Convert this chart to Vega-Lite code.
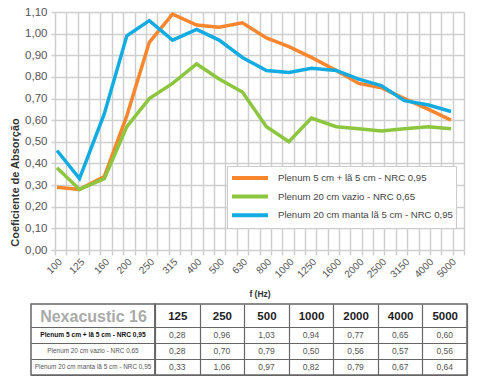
{
  "$schema": "https://vega.github.io/schema/vega-lite/v6.json",
  "background": "white",
  "padding": {"left": 9, "top": 6, "right": 0, "bottom": 0},
  "autosize": {"type": "pad"},
  "config": {
    "font": "Liberation Sans",
    "view": {"stroke": null},
    "locale": {"number": {"decimal": ",", "thousands": ".", "grouping": [3], "currency": ["R$", ""]}}
  },
  "datasets": {
    "curves": [
      {"f": 100, "serie": "Plenum 5 cm + lã 5 cm - NRC 0,95", "v": 0.29},
      {"f": 125, "serie": "Plenum 5 cm + lã 5 cm - NRC 0,95", "v": 0.28},
      {"f": 160, "serie": "Plenum 5 cm + lã 5 cm - NRC 0,95", "v": 0.34},
      {"f": 200, "serie": "Plenum 5 cm + lã 5 cm - NRC 0,95", "v": 0.62},
      {"f": 250, "serie": "Plenum 5 cm + lã 5 cm - NRC 0,95", "v": 0.96},
      {"f": 315, "serie": "Plenum 5 cm + lã 5 cm - NRC 0,95", "v": 1.09},
      {"f": 400, "serie": "Plenum 5 cm + lã 5 cm - NRC 0,95", "v": 1.04},
      {"f": 500, "serie": "Plenum 5 cm + lã 5 cm - NRC 0,95", "v": 1.03},
      {"f": 630, "serie": "Plenum 5 cm + lã 5 cm - NRC 0,95", "v": 1.05},
      {"f": 800, "serie": "Plenum 5 cm + lã 5 cm - NRC 0,95", "v": 0.98},
      {"f": 1000, "serie": "Plenum 5 cm + lã 5 cm - NRC 0,95", "v": 0.94},
      {"f": 1250, "serie": "Plenum 5 cm + lã 5 cm - NRC 0,95", "v": 0.89},
      {"f": 1600, "serie": "Plenum 5 cm + lã 5 cm - NRC 0,95", "v": 0.83},
      {"f": 2000, "serie": "Plenum 5 cm + lã 5 cm - NRC 0,95", "v": 0.77},
      {"f": 2500, "serie": "Plenum 5 cm + lã 5 cm - NRC 0,95", "v": 0.75},
      {"f": 3150, "serie": "Plenum 5 cm + lã 5 cm - NRC 0,95", "v": 0.70},
      {"f": 4000, "serie": "Plenum 5 cm + lã 5 cm - NRC 0,95", "v": 0.65},
      {"f": 5000, "serie": "Plenum 5 cm + lã 5 cm - NRC 0,95", "v": 0.60},
      {"f": 100, "serie": "Plenum 20 cm vazio - NRC 0,65", "v": 0.38},
      {"f": 125, "serie": "Plenum 20 cm vazio - NRC 0,65", "v": 0.28},
      {"f": 160, "serie": "Plenum 20 cm vazio - NRC 0,65", "v": 0.33},
      {"f": 200, "serie": "Plenum 20 cm vazio - NRC 0,65", "v": 0.57},
      {"f": 250, "serie": "Plenum 20 cm vazio - NRC 0,65", "v": 0.70},
      {"f": 315, "serie": "Plenum 20 cm vazio - NRC 0,65", "v": 0.77},
      {"f": 400, "serie": "Plenum 20 cm vazio - NRC 0,65", "v": 0.86},
      {"f": 500, "serie": "Plenum 20 cm vazio - NRC 0,65", "v": 0.79},
      {"f": 630, "serie": "Plenum 20 cm vazio - NRC 0,65", "v": 0.73},
      {"f": 800, "serie": "Plenum 20 cm vazio - NRC 0,65", "v": 0.57},
      {"f": 1000, "serie": "Plenum 20 cm vazio - NRC 0,65", "v": 0.50},
      {"f": 1250, "serie": "Plenum 20 cm vazio - NRC 0,65", "v": 0.61},
      {"f": 1600, "serie": "Plenum 20 cm vazio - NRC 0,65", "v": 0.57},
      {"f": 2000, "serie": "Plenum 20 cm vazio - NRC 0,65", "v": 0.56},
      {"f": 2500, "serie": "Plenum 20 cm vazio - NRC 0,65", "v": 0.55},
      {"f": 3150, "serie": "Plenum 20 cm vazio - NRC 0,65", "v": 0.56},
      {"f": 4000, "serie": "Plenum 20 cm vazio - NRC 0,65", "v": 0.57},
      {"f": 5000, "serie": "Plenum 20 cm vazio - NRC 0,65", "v": 0.56},
      {"f": 100, "serie": "Plenum 20 cm manta lã 5 cm - NRC 0,95", "v": 0.46},
      {"f": 125, "serie": "Plenum 20 cm manta lã 5 cm - NRC 0,95", "v": 0.33},
      {"f": 160, "serie": "Plenum 20 cm manta lã 5 cm - NRC 0,95", "v": 0.63},
      {"f": 200, "serie": "Plenum 20 cm manta lã 5 cm - NRC 0,95", "v": 0.99},
      {"f": 250, "serie": "Plenum 20 cm manta lã 5 cm - NRC 0,95", "v": 1.06},
      {"f": 315, "serie": "Plenum 20 cm manta lã 5 cm - NRC 0,95", "v": 0.97},
      {"f": 400, "serie": "Plenum 20 cm manta lã 5 cm - NRC 0,95", "v": 1.02},
      {"f": 500, "serie": "Plenum 20 cm manta lã 5 cm - NRC 0,95", "v": 0.97},
      {"f": 630, "serie": "Plenum 20 cm manta lã 5 cm - NRC 0,95", "v": 0.89},
      {"f": 800, "serie": "Plenum 20 cm manta lã 5 cm - NRC 0,95", "v": 0.83},
      {"f": 1000, "serie": "Plenum 20 cm manta lã 5 cm - NRC 0,95", "v": 0.82},
      {"f": 1250, "serie": "Plenum 20 cm manta lã 5 cm - NRC 0,95", "v": 0.84},
      {"f": 1600, "serie": "Plenum 20 cm manta lã 5 cm - NRC 0,95", "v": 0.83},
      {"f": 2000, "serie": "Plenum 20 cm manta lã 5 cm - NRC 0,95", "v": 0.79},
      {"f": 2500, "serie": "Plenum 20 cm manta lã 5 cm - NRC 0,95", "v": 0.76},
      {"f": 3150, "serie": "Plenum 20 cm manta lã 5 cm - NRC 0,95", "v": 0.69},
      {"f": 4000, "serie": "Plenum 20 cm manta lã 5 cm - NRC 0,95", "v": 0.67},
      {"f": 5000, "serie": "Plenum 20 cm manta lã 5 cm - NRC 0,95", "v": 0.64}
    ]
  },
  "spacing": 5,
  "vconcat": [
    {
      "spacing": 0,
      "bounds": "flush",
      "hconcat": [
        {
          "width": 24,
          "height": 238,
          "view": {"stroke": null},
          "data": {"values": []},
          "mark": "point"
        },
        {
          "width": 409,
          "height": 238,
          "view": {"stroke": null},
          "data": {"name": "curves"},
          "mark": {"type": "line", "strokeWidth": 3.5, "strokeCap": "butt"},
          "encoding": {
            "x": {
              "field": "f",
              "type": "quantitative",
              "scale": {"type": "log", "domain": [98.03, 5688.9], "nice": false},
              "axis": {
                "values": [98.03, 109.74, 122.85, 137.5, 153.9, 172.3, 192.9, 215.9, 241.7, 270.6, 302.9, 339.1, 379.6, 424.9, 475.6, 532.4, 596.0, 667.1, 746.8, 836.0, 935.8, 1047.5, 1172.6, 1312.7, 1469.4, 1644.8, 1841.3, 2061.2, 2307.3, 2582.8, 2891.2, 3236.5, 3623.0, 4055.6, 4539.9, 5081.9, 5688.9, 100, 125, 160, 200, 250, 315, 400, 500, 630, 800, 1000, 1250, 1600, 2000, 2500, 3150, 4000, 5000],
                "grid": true,
                "gridColor": {"condition": {"test": "indexof([100,125,160,200,250,315,400,500,630,800,1000,1250,1600,2000,2500,3150,4000,5000], datum.value) >= 0", "value": "transparent"}, "value": "#cfcfcf"},
                "gridWidth": 1.5,
                "ticks": true,
                "tickSize": 5,
                "tickWidth": 1.5,
                "tickColor": {"condition": {"test": "indexof([100,125,160,200,250,315,400,500,630,800,1000,1250,1600,2000,2500,3150,4000,5000], datum.value) >= 0", "value": "transparent"}, "value": "#cfcfcf"},
                "domain": false,
                "labelExpr": "indexof([100,125,160,200,250,315,400,500,630,800,1000,1250,1600,2000,2500,3150,4000,5000], datum.value) >= 0 ? format(datum.value, 'd') : ''",
                "labelAngle": -45,
                "labelAlign": "right",
                "labelBaseline": "middle",
                "labelPadding": 5,
                "labelOffset": 3,
                "labelFontSize": 10,
                "labelColor": "#555555",
                "labelOverlap": false,
                "labelFlush": false,
                "labelBound": false,
                "title": "f (Hz)",
                "titleFontSize": 8.5,
                "titleFontWeight": "bold",
                "titleColor": "#333333",
                "titleY": 43,
                "titleBaseline": "middle"
              }
            },
            "y": {
              "field": "v",
              "type": "quantitative",
              "scale": {"domain": [0, 1.1], "nice": false},
              "axis": {
                "values": [0, 0.1, 0.2, 0.3, 0.4, 0.5, 0.6, 0.7, 0.8, 0.9, 1.0, 1.1],
                "format": ".2f",
                "grid": true,
                "gridColor": "#cfcfcf",
                "gridWidth": 1.5,
                "ticks": true,
                "tickSize": 4,
                "tickWidth": 1.5,
                "tickColor": "#cfcfcf",
                "domain": false,
                "labelFontSize": 11.5,
                "labelColor": "#555555",
                "labelPadding": 4,
                "title": "Coeficiente de Absorção",
                "titleFontSize": 11,
                "titleFontWeight": "bold",
                "titleColor": "#333333",
                "titleY": 170,
                "titleAlign": "center",
                "titlePadding": 4
              }
            },
            "color": {
              "field": "serie",
              "type": "nominal",
              "scale": {
                "domain": ["Plenum 5 cm + lã 5 cm - NRC 0,95", "Plenum 20 cm vazio - NRC 0,65", "Plenum 20 cm manta lã 5 cm - NRC 0,95"],
                "range": ["#f7862e", "#8cc63f", "#12abe2"]
              },
              "legend": {
                "orient": "none",
                "legendX": 196,
                "legendY": 154,
                "title": null,
                "fillColor": "white",
                "strokeColor": "#cccccc",
                "padding": 3,
                "symbolType": "stroke",
                "symbolSize": 1296,
                "symbolStrokeWidth": 4,
                "clipHeight": 18,
                "rowPadding": 0.6,
                "labelFontSize": 9.6,
                "labelColor": "#444444",
                "labelOffset": 8,
                "labelLimit": 300
              }
            }
          }
        }
      ]
    },
    {
      "spacing": 0,
      "bounds": "flush",
      "hconcat": [
        {
          "width": 124,
          "height": 71,
          "view": {"stroke": "#666666", "strokeWidth": 1.5},
          "data": {"name": "curves"},
          "transform": [{"filter": {"field": "f", "equal": 125}}],
          "encoding": {
            "y": {
              "field": "serie",
              "type": "nominal",
              "scale": {
                "domain": ["Plenum 5 cm + lã 5 cm - NRC 0,95", "Plenum 20 cm vazio - NRC 0,65", "Plenum 20 cm manta lã 5 cm - NRC 0,95"],
                "paddingInner": 0,
                "paddingOuter": 0.742,
                "align": 1
              },
              "axis": {
                "labels": false,
                "ticks": false,
                "domain": false,
                "grid": true,
                "tickBand": "extent",
                "gridColor": "#666666",
                "gridWidth": 1.2,
                "title": "Nexacustic 16",
                "titleAngle": 0,
                "titleX": 62,
                "titleY": 12,
                "titleAlign": "center",
                "titleBaseline": "middle",
                "titleFontSize": 16,
                "titleFontWeight": "bold",
                "titleColor": "#aaaaaa"
              }
            },
            "text": {"field": "serie", "type": "nominal"}
          },
          "layer": [
            {
              "transform": [{"filter": {"field": "serie", "equal": "Plenum 5 cm + lã 5 cm - NRC 0,95"}}],
              "mark": {"type": "text", "fontSize": 6.6, "fontWeight": "bold", "color": "#111111"}
            },
            {
              "transform": [{"filter": {"not": {"field": "serie", "equal": "Plenum 5 cm + lã 5 cm - NRC 0,95"}}}],
              "mark": {"type": "text", "fontSize": 6.4, "color": "#555555"}
            }
          ]
        },
        {
          "width": 312,
          "height": 71,
          "view": {"stroke": "#666666", "strokeWidth": 1.5},
          "data": {"name": "curves"},
          "transform": [{"filter": {"field": "f", "oneOf": [125, 250, 500, 1000, 2000, 4000, 5000]}}],
          "mark": {"type": "text", "fontSize": 8.5, "color": "#555555"},
          "encoding": {
            "x": {
              "field": "f",
              "type": "ordinal",
              "scale": {"paddingInner": 0, "paddingOuter": 0},
              "axis": {
                "orient": "top",
                "labelAngle": 0,
                "labelBaseline": "middle",
                "labelPadding": -12,
                "labelFontSize": 11.5,
                "labelFontWeight": "bold",
                "labelColor": "#222222",
                "ticks": false,
                "domain": false,
                "grid": true,
                "tickBand": "extent",
                "gridColor": "#666666",
                "gridWidth": 1.2,
                "title": null
              }
            },
            "y": {
              "field": "serie",
              "type": "nominal",
              "scale": {
                "domain": ["Plenum 5 cm + lã 5 cm - NRC 0,95", "Plenum 20 cm vazio - NRC 0,65", "Plenum 20 cm manta lã 5 cm - NRC 0,95"],
                "paddingInner": 0,
                "paddingOuter": 0.742,
                "align": 1
              },
              "axis": {
                "labels": false,
                "ticks": false,
                "domain": false,
                "grid": true,
                "tickBand": "extent",
                "gridColor": "#666666",
                "gridWidth": 1.2,
                "title": null
              }
            },
            "text": {"field": "v", "type": "quantitative", "format": ".2f"}
          }
        }
      ]
    }
  ]
}
